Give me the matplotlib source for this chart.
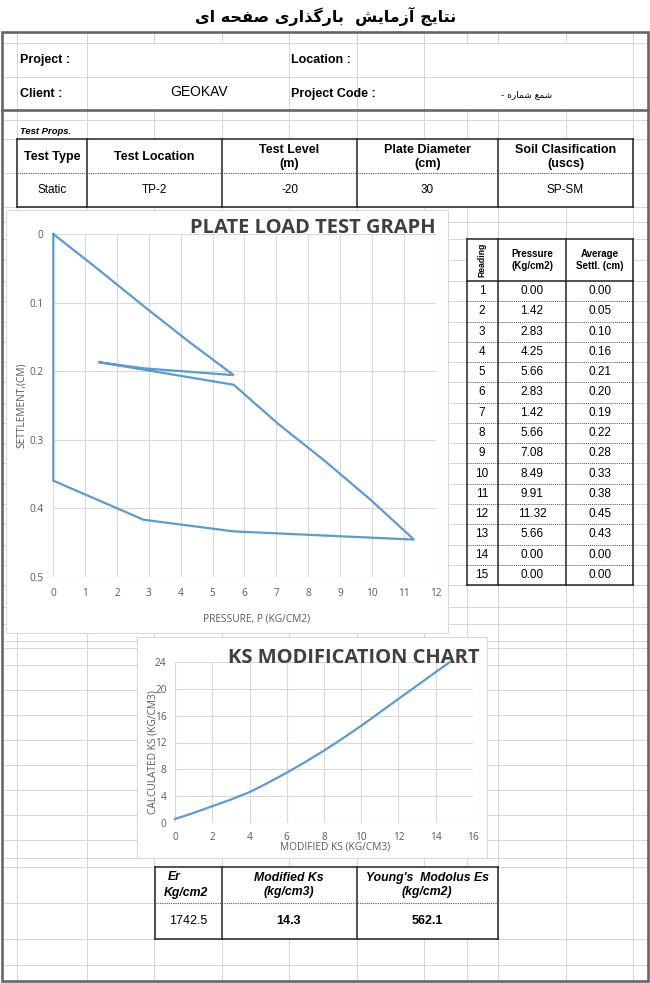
#!/usr/bin/env python3
# -*- coding: utf-8 -*-
# plate load test sheet: header tables, settlement graph, ks chart

import numpy as np
import matplotlib as mpl
import matplotlib.figure as figure
from matplotlib.patches import Rectangle

mpl.rc('font', family='Liberation Sans')

#%% data
reading = list(range(1, 16))
pressure = [0.00, 1.42, 2.83, 4.25, 5.66, 2.83, 1.42, 5.66, 7.08, 8.49, 9.91, 11.32, 5.66, 0.00, 0.00]
settl = [0.00, 0.05, 0.10, 0.16, 0.21, 0.20, 0.19, 0.22, 0.28, 0.33, 0.38, 0.45, 0.43, 0.00, 0.00]

# series behind the graph (read off the curve, not rounded like the table)
graph_p = [0.00, 1.42, 2.83, 4.25, 5.66, 2.83, 1.42, 5.66, 7.08, 8.49, 9.91, 11.32, 5.66, 2.83, 0.00, 0.00]
graph_s = [0.000, 0.052, 0.105, 0.157, 0.206, 0.196, 0.187, 0.220, 0.278, 0.330, 0.386, 0.446, 0.434, 0.417, 0.360, 0.000]

ks_mod = [0, 1, 2, 3, 4, 5, 6, 7, 8, 9, 10, 11, 12, 13, 14, 14.76]
ks_calc = [0.6, 1.5, 2.5, 3.5, 4.6, 6.0, 7.5, 9.1, 10.8, 12.6, 14.5, 16.5, 18.5, 20.5, 22.5, 24.0]

props_head = ['Test Type', 'Test Location', 'Test Level\n(m)', 'Plate Diameter\n(cm)', 'Soil Clasification\n(uscs)']
props_vals = ['Static', 'TP-2', '-20', '30', 'SP-SM']

er_head = ['Modified Ks\n(kg/cm3)', "Young's  Modolus Es\n(kg/cm2)"]
er_vals = ['1742.5', '14.3', '562.1']

title_fa = 'نتایج آزمایش  بارگذاری صفحه ای'
code_fa = 'شمع شماره -'

#%% tiny persian shaper (matplotlib does no joining / rtl)
forms = {
    'ا': ('\uFE8D', '\uFE8E', None, None),
    'آ': ('\uFE81', '\uFE82', None, None),
    'ب': ('\uFE8F', '\uFE90', '\uFE91', '\uFE92'),
    'ت': ('\uFE95', '\uFE96', '\uFE97', '\uFE98'),
    'ج': ('\uFE9D', '\uFE9E', '\uFE9F', '\uFEA0'),
    'ح': ('\uFEA1', '\uFEA2', '\uFEA3', '\uFEA4'),
    'ذ': ('\uFEAB', '\uFEAC', None, None),
    'ر': ('\uFEAD', '\uFEAE', None, None),
    'ز': ('\uFEAF', '\uFEB0', None, None),
    'ش': ('\uFEB5', '\uFEB6', '\uFEB7', '\uFEB8'),
    'ص': ('\uFEB9', '\uFEBA', '\uFEBB', '\uFEBC'),
    'ع': ('\uFEC9', '\uFECA', '\uFECB', '\uFECC'),
    'ف': ('\uFED1', '\uFED2', '\uFED3', '\uFED4'),
    'م': ('\uFEE1', '\uFEE2', '\uFEE3', '\uFEE4'),
    'ن': ('\uFEE5', '\uFEE6', '\uFEE7', '\uFEE8'),
    'ه': ('\uFEE9', '\uFEEA', '\uFEEB', '\uFEEC'),
    'ی': ('\uFBFC', '\uFBFD', '\uFBFE', '\uFBFF'),
    'گ': ('\uFB92', '\uFB93', '\uFB94', '\uFB95'),
}

def shape_fa(s):
    out = []
    for i, c in enumerate(s):
        if c not in forms:
            out.append(c)
            continue
        prv = s[i - 1] if i > 0 else ' '
        nxt = s[i + 1] if i + 1 < len(s) else ' '
        j_prev = prv in forms and forms[prv][2] is not None
        j_next = forms[c][2] is not None and nxt in forms
        if j_prev and j_next:
            out.append(forms[c][3])
        elif j_prev:
            out.append(forms[c][1])
        elif j_next:
            out.append(forms[c][2])
        else:
            out.append(forms[c][0])
    return ''.join(out[::-1])

#%% page
W, H = 650, 983

def px_box(x0, y0, x1, y1):
    return [x0 / W, 1 - y1 / H, (x1 - x0) / W, (y1 - y0) / H]

fig = figure.Figure(figsize=(W / 100, H / 100), dpi=100)
fig.patch.set_facecolor('white')

bg = fig.add_axes([0, 0, 1, 1])
bg.set_xlim(0, W)
bg.set_ylim(H, 0)
bg.axis('off')

grid_c = '#d6d6d6'
cols = [17, 87, 154, 222, 289, 357, 424, 467, 498, 566, 633]
top_cols = [17, 87, 289, 357, 424, 633]
row_h = 20.27
read_rows = [281 + row_h * k for k in range(16)]
rows = [43, 77, 120, 139, 173, 207, 222, 239, 260] + read_rows + \
       [607, 624, 641, 648, 665, 690, 715, 740, 765, 790, 815, 840, 858, 867, 903, 939, 965]

# sheet grid
for x in cols:
    bg.plot([x, x], [32, 43], color=grid_c, lw=0.75, zorder=1)
    bg.plot([x, x], [110, 981], color=grid_c, lw=0.75, zorder=1)
for x in top_cols:
    bg.plot([x, x], [43, 110], color=grid_c, lw=0.75, zorder=1)
for y in rows:
    bg.plot([2, 648], [y, y], color=grid_c, lw=0.75, zorder=1)

# outer frame
frame_c = '#666666'
bg.add_patch(Rectangle((2, 32), 646, 949, fill=False, ec=frame_c, lw=1.9, zorder=6))
bg.plot([2, 648], [110, 110], color=frame_c, lw=1.9, zorder=6)

# title + project block
bg.text(326, 16, shape_fa(title_fa), ha='center', va='center', fontsize=11.5,
        fontweight='bold', family=['DejaVu Sans'], zorder=5)
bg.text(20, 60, 'Project :', ha='left', va='center', fontsize=9, fontweight='bold', zorder=5)
bg.text(291, 60, 'Location :', ha='left', va='center', fontsize=9, fontweight='bold', zorder=5)
bg.text(20, 94, 'Client :', ha='left', va='center', fontsize=9, fontweight='bold', zorder=5)
bg.text(291, 94, 'Project Code :', ha='left', va='center', fontsize=9, fontweight='bold', zorder=5)
bg.text(199, 92, 'GEOKAV', ha='center', va='center', fontsize=10, zorder=5)
bg.text(527, 95, shape_fa(code_fa), ha='center', va='center', fontsize=6.5,
        family=['DejaVu Sans'], zorder=5)

#%% test props table
bg.text(20, 131, 'Test Props.', ha='left', va='center', fontsize=6.8,
        fontweight='bold', style='italic', zorder=5)
p_cols = [17, 87, 222, 357, 498, 633]
bg.add_patch(Rectangle((17, 139), 616, 68, fc='white', ec='none', zorder=2))
for i in range(5):
    xc = (p_cols[i] + p_cols[i + 1]) / 2
    bg.text(xc, 157, props_head[i], ha='center', va='center', fontsize=9,
            fontweight='bold', linespacing=1.15, zorder=5)
    bg.text(xc, 190, props_vals[i], ha='center', va='center', fontsize=8.5, zorder=5)
for x in p_cols:
    bg.plot([x, x], [139, 207], color='#222222', lw=1.1, zorder=3)
bg.plot([17, 633], [139, 139], color='#222222', lw=1.1, zorder=3)
bg.plot([17, 633], [207, 207], color='#222222', lw=1.1, zorder=3)
bg.plot([17, 633], [173, 173], color='#555555', lw=0.8, ls=(0, (1, 1)), zorder=3)

#%% readings table
r_cols = [467, 498, 566, 633]
bg.add_patch(Rectangle((467, 239), 166, 346, fc='white', ec='none', zorder=2))
bg.text(482, 260, 'Reading', rotation=90, ha='center', va='center', fontsize=6.2,
        fontweight='bold', zorder=5)
bg.text(532, 260, 'Pressure\n(Kg/cm2)', ha='center', va='center', fontsize=7,
        fontweight='bold', linespacing=1.25, zorder=5)
bg.text(600, 260, 'Average\nSettl. (cm)', ha='center', va='center', fontsize=7,
        fontweight='bold', linespacing=1.25, zorder=5)
for k in range(len(reading)):
    yc = read_rows[k] + row_h / 2
    bg.text(482, yc, str(reading[k]), ha='center', va='center', fontsize=8.5, zorder=5)
    bg.text(532, yc, '%.2f' % pressure[k], ha='center', va='center', fontsize=8.5, zorder=5)
    bg.text(600, yc, '%.2f' % settl[k], ha='center', va='center', fontsize=8.5, zorder=5)
for y in read_rows[1:-1]:
    bg.plot([467, 633], [y, y], color='#555555', lw=0.7, ls=(0, (1, 1)), zorder=3)
for x in r_cols:
    bg.plot([x, x], [239, read_rows[-1]], color='#222222', lw=1.1, zorder=3)
for y in [239, read_rows[0], read_rows[-1]]:
    bg.plot([467, 633], [y, y], color='#222222', lw=1.1, zorder=3)

#%% er table
e_cols = [155, 222, 357, 498]
bg.add_patch(Rectangle((155, 867), 343, 72, fc='white', ec='none', zorder=2))
bg.text(168, 877, 'Er', ha='left', va='center', fontsize=8.8, fontweight='bold',
        style='italic', zorder=5)
bg.text(164, 893, 'Kg/cm2', ha='left', va='center', fontsize=8.8, fontweight='bold',
        style='italic', zorder=5)
bg.text(289, 885, er_head[0], ha='center', va='center', fontsize=8.8, fontweight='bold',
        style='italic', linespacing=1.2, zorder=5)
bg.text(427, 885, er_head[1], ha='center', va='center', fontsize=8.8, fontweight='bold',
        style='italic', linespacing=1.2, zorder=5)
bg.text(188, 921, er_vals[0], ha='center', va='center', fontsize=9, zorder=5)
bg.text(289, 921, er_vals[1], ha='center', va='center', fontsize=9, fontweight='bold', zorder=5)
bg.text(427, 921, er_vals[2], ha='center', va='center', fontsize=9, fontweight='bold', zorder=5)
for x in e_cols:
    bg.plot([x, x], [867, 939], color='#222222', lw=1.1, zorder=3)
bg.plot([155, 498], [867, 867], color='#222222', lw=1.1, zorder=3)
bg.plot([155, 498], [939, 939], color='#222222', lw=1.1, zorder=3)
bg.plot([155, 498], [903, 903], color='#555555', lw=0.8, ls=(0, (1, 1)), zorder=3)

#%% chart boxes
box_c = '#d9d9d9'
bg.add_patch(Rectangle((6, 210), 442, 423, fc='white', ec=box_c, lw=0.8, zorder=2))
bg.add_patch(Rectangle((137, 637), 350, 221, fc='white', ec=box_c, lw=0.8, zorder=2))

title_kw = dict(ha='right', va='baseline', fontsize=14.5, fontweight='bold',
                family='Open Sans', color='#404040', zorder=5)
lab_kw = dict(ha='center', va='center', fontsize=7.3, family='Open Sans',
              color='#595959', zorder=5)
bg.text(436, 233.3, 'PLATE LOAD TEST GRAPH', **title_kw)
bg.text(257, 619, 'PRESSURE, P (KG/CM2)', **lab_kw)
bg.text(21, 405, 'SETTLEMENT,(CM)', rotation=90, **lab_kw)

line_c = '#5b9bd5'

def style_axes(ax):
    ax.set_facecolor('none')
    for s in ax.spines.values():
        s.set_visible(False)
    ax.grid(True, color='#d9d9d9', lw=0.8)
    ax.set_axisbelow(True)
    for lab in ax.get_xticklabels() + ax.get_yticklabels():
        lab.set_family('Open Sans')
        lab.set_fontsize(7.3)
        lab.set_color('#595959')

#%% plate load graph
ax1 = fig.add_axes(px_box(53.3, 234, 435.7, 576.6))
ax1.plot(graph_p, graph_s, color=line_c, lw=1.6, solid_joinstyle='miter', clip_on=False)
ax1.set_xlim(0, 12)
ax1.set_ylim(0.5, 0)
ax1.set_xticks(np.arange(0, 13, 1))
ax1.set_yticks(np.arange(0, 0.51, 0.1))
ax1.set_yticklabels(['0', '0.1', '0.2', '0.3', '0.4', '0.5'])
ax1.tick_params(length=0)
ax1.tick_params(axis='x', pad=8)
ax1.tick_params(axis='y', pad=7)
style_axes(ax1)

#%% ks modification chart
ax2 = fig.add_axes(px_box(175, 662, 473, 823))
ax2.plot(ks_mod, ks_calc, color=line_c, lw=1.6, clip_on=False)
ax2.set_xlim(0, 16)
ax2.set_ylim(0, 24)
ax2.set_xticks(np.arange(0, 17, 2))
ax2.set_yticks(np.arange(0, 25, 4))
ax2.tick_params(length=0)
ax2.tick_params(axis='x', pad=6.5)
ax2.tick_params(axis='y', pad=6)
style_axes(ax2)

fig.text(480 / W, 1 - 663.3 / H, 'KS MODIFICATION CHART', ha='right', va='baseline',
         fontsize=14.5, fontweight='bold', family='Open Sans', color='#404040')
fig.text(335 / W, 1 - 847 / H, 'MODIFIED KS (KG/CM3)', ha='center', va='center',
         fontsize=7.3, family='Open Sans', color='#595959')
fig.text(153 / W, 1 - 752 / H, 'CALCULATED KS (KG/CM3)', rotation=90, ha='center',
         va='center', fontsize=7.3, family='Open Sans', color='#595959')

fig.savefig('out.png', dpi=100, facecolor='white')
